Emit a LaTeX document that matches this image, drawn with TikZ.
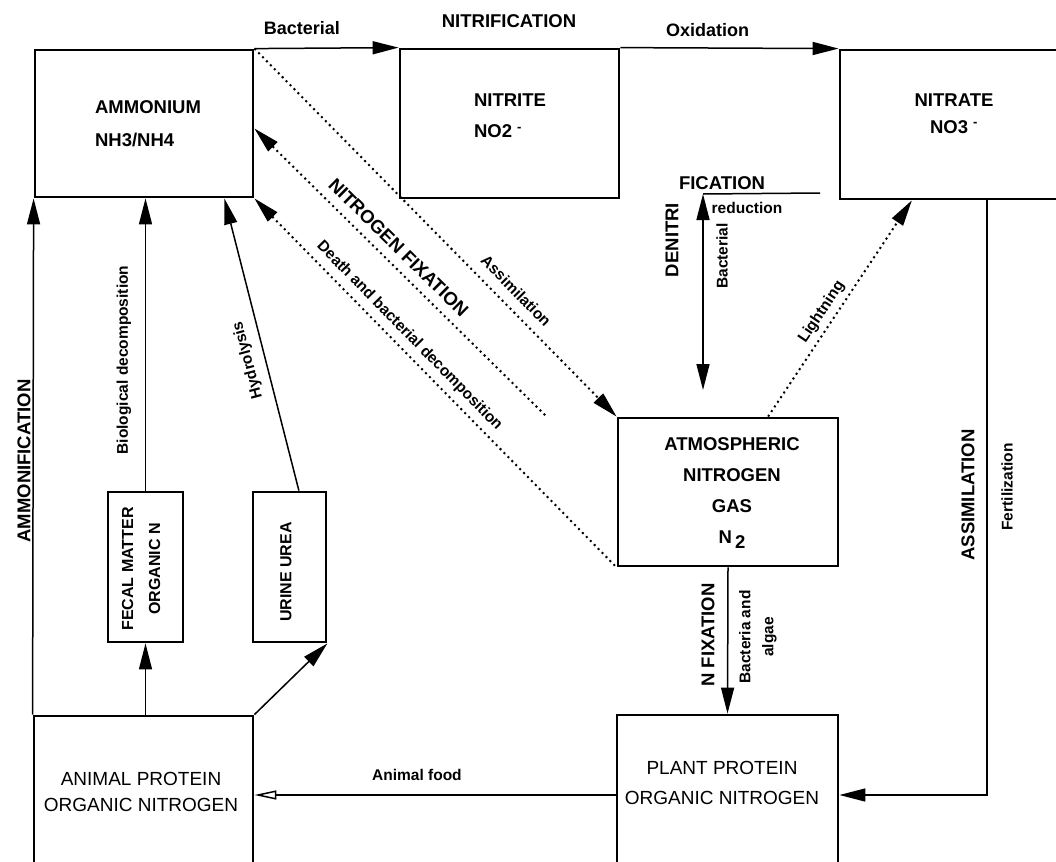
\documentclass[tikz,border=0pt]{standalone}
\usepackage{fontspec}
\setmainfont{Liberation Sans}
\usetikzlibrary{positioning, arrows.meta}

\begin{document}
\begin{tikzpicture}[x=1pt, y=-1pt, >={Triangle[length=26pt,width=13pt]}]
    \tikzstyle{pool}=[rectangle, draw, line width=2.8pt, inner sep=0]
    \tikzstyle{pool text}=[inner sep=0, align=center, font=\fontsize{19}{26}\selectfont]
    \tikzstyle{side pool text}=[inner sep=0, align=center, rotate=90, font=\bfseries\fontsize{16}{27}\selectfont]
    \tikzstyle{flow}=[line width=1.5pt]
    \tikzstyle{dots}=[line width=2pt, dash pattern=on 2pt off 3.6pt]
    \tikzstyle{process}=[inner sep=0, font=\bfseries\fontsize{18.5}{22}\selectfont]
    \tikzstyle{agent}=[inner sep=0, font=\bfseries\fontsize{15.5}{23}\selectfont]
    \tikzstyle{top agent}=[inner sep=0, font=\bfseries\fontsize{18}{22}\selectfont]

    \useasboundingbox (0,0) rectangle (1056,861);

    % pools
    \node[pool, minimum width=218pt, minimum height=147pt] (ammonium) at (144,123.5) {};
    \node[pool, minimum width=219pt, minimum height=149pt] (nitrite) at (509.5,123.5) {};
    \node[pool, minimum width=250pt, minimum height=149pt] (nitrate) at (965,124.5) {};
    \node[pool, minimum width=220pt, minimum height=148pt] (atmos) at (728,492) {};
    \node[pool, minimum width=75pt, minimum height=150pt] (fecal) at (145.5,567) {};
    \node[pool, minimum width=73pt, minimum height=150pt] (urine) at (289.5,567) {};
    \node[pool, minimum width=219pt, minimum height=158pt] (animal) at (143.5,795) {};
    \node[pool, minimum width=221pt, minimum height=160pt] (plant) at (727.5,795) {};

    \node[pool text, align=left, font=\bfseries\fontsize{18.5}{33}\selectfont] (ammoniumtext) at (148,123.5) {AMMONIUM\\NH3/NH4};
    \node[pool text, align=left, font=\bfseries\fontsize{18.5}{31}\selectfont] (nitritetext) at (510,115.5) {NITRITE\\NO2 \textsuperscript{-}};
    \node[pool text, font=\bfseries\fontsize{18.5}{27}\selectfont] (nitratetext) at (954,113.5) {NITRATE\\NO3 \textsuperscript{-}};
    \node[pool text, font=\bfseries\fontsize{18.5}{31}\selectfont] (atmostext) at (732,493) {ATMOSPHERIC\\NITROGEN\\GAS\\N\,\raisebox{-5pt}{2}};
    \node[pool text] (animaltext) at (141,792) {ANIMAL PROTEIN\\ORGANIC NITROGEN};
    \node[pool text, font=\fontsize{19}{30}\selectfont] (planttext) at (722,783) {PLANT PROTEIN\\ORGANIC NITROGEN};
    \node[side pool text] (fecaltext) at (141,569) {FECAL MATTER\\ORGANIC N};
    \node[side pool text] (urinetext) at (286,572) {URINE UREA};

    % nitrification
    \draw[flow, ->] (ammonium.north east) -- (nitrite.north west)
        node[top agent, pos=.33, above=13pt] (bactlabel) {Bacterial};
    \draw[flow, ->] (nitrite.north east) -- (nitrate.north west)
        node[top agent, pos=.40, above=11pt] (oxidlabel) {Oxidation};
    \node[process] (nitrification) at (509,21) {NITRIFICATION};

    % denitrification
    \coordinate (denitop) at (703,194);
    \coordinate (denistub) at (820,193);
    \coordinate (denibottom) at (703,390);
    \draw[flow] (denitop) -- (denistub);
    \draw[flow, <->] (denitop) -- (denibottom);
    \node[process] (ficlabel) at (722,183) {FICATION};
    \node[process, rotate=90] (denilabel) at (672,240) {DENITRI};
    \node[agent] (redlabel) at (747,208) {reduction};
    \node[agent, rotate=90] (bactdenilabel) at (722,256) {Bacterial};

    % dotted links
    \draw[dots, ->] (atmos.62) -- (nitrate.235)
        node[agent, sloped, pos=.45, above=5pt] (lightlabel) {Lightning};
    \draw[dots, ->] (ammonium.north east) -- (atmos.north west)
        node[agent, sloped, pos=.69, above=10pt] (assimlabel) {Assimilation};
    \coordinate (nfixend) at (547,417);
    \draw[dots, <-] ([yshift=-5pt]ammonium.east) -- (nfixend)
        node[process, sloped, pos=.453, above=9pt] (nfixlabel) {NITROGEN FIXATION};
    \draw[dots, <-] (ammonium.south east) -- (atmos.south west)
        node[agent, sloped, pos=.40, above=6pt] (deathlabel) {Death and bacterial decomposition};

    % ammonification
    \draw[flow, ->] (animal.north west) -- (ammonium.south west);
    \node[process, rotate=90] (ammonilabel) at (24,461) {AMMONIFICATION};
    \draw[flow, ->] (fecal.north) -- (fecal.north |- ammonium.south);
    \node[agent, rotate=90] (biolabel) at (124,360) {Biological decomposition};
    \draw[flow, ->] (urine.83) -- (ammonium.-43);
    \node[agent, rotate=105] (hydrolabel) at (248,360) {Hydrolysis};
    \draw[flow, ->] (fecal.south |- animal.north) -- (fecal.south);
    \draw[flow, ->] (animal.north east) -- (urine.south east);

    % fixation and assimilation
    \draw[flow, ->] (atmos.south) -- (plant.north);
    \node[process, rotate=90] (nfixlabel2) at (708,635) {N FIXATION};
    \node[agent, rotate=90, align=center] (algaelabel) at (758,637) {Bacteria and\\algae};
    \draw[flow, ->] (nitrate.-74) |- (plant.east);
    \node[process, rotate=90] (assimbig) at (968,495) {ASSIMILATION};
    \node[agent, rotate=90] (fertlabel) at (1007,487) {Fertilization};

    \draw[flow, -{Triangle[open, length=22pt, width=9pt]}] (plant.west) -- (animal.east)
        node[agent, pos=.55, above=14pt] (foodlabel) {Animal food};
\end{tikzpicture}
\end{document}
